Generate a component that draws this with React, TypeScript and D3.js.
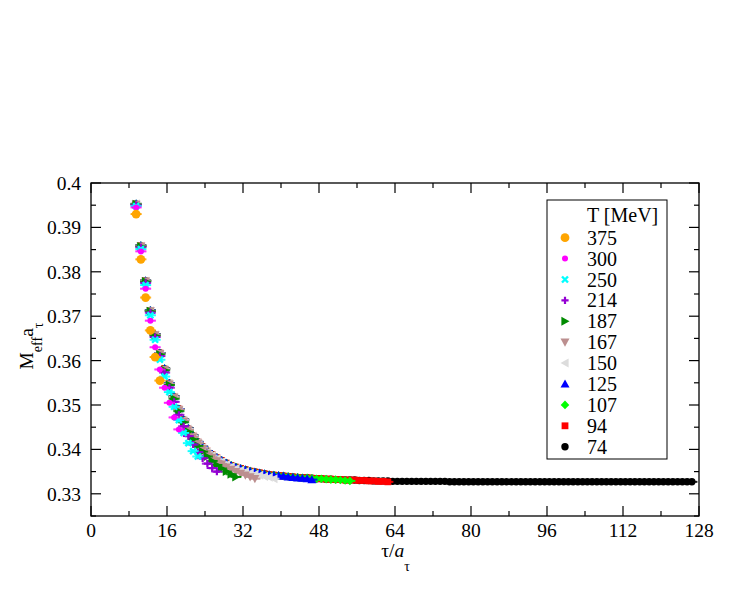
import React from 'react';
import * as d3 from 'd3';

// ---------- data ----------
const temperatures = ['375', '300', '250', '214', '187', '167', '150', '125', '107', '94', '74'];
const seriesColors = ['#ffa500', '#ff00ff', '#00ffff', '#9400d3', '#008b00', '#bc8f8f', '#dcdcdc', '#0000ff', '#00ff00', '#ff0000', '#000000'];
const seriesShapes = ['circleL', 'circleS', 'x', 'plus', 'triR', 'triD', 'triL', 'triU', 'diamond', 'square', 'circleM'];

const firstTau = 9.5;

const m375 = [0.3930, 0.3828, 0.3742, 0.3668, 0.3608, 0.3555];
const m300 = [0.3945, 0.3846, 0.3762, 0.3690, 0.3630, 0.3580, 0.3539, 0.3505, 0.3472, 0.3445];
const m250 = [0.3948, 0.3851, 0.3770, 0.3702, 0.3647, 0.3602, 0.3564, 0.3529, 0.3496, 0.3466, 0.3437, 0.3414, 0.3396, 0.3384];
const m214 = [0.3950, 0.3855, 0.3775, 0.3708, 0.3653, 0.3610, 0.3573, 0.3539, 0.3507, 0.3478, 0.3452, 0.3430, 0.3411, 0.3394, 0.3380, 0.3368, 0.3358, 0.3350];
const m187 = [0.3952, 0.3857, 0.3778, 0.3711, 0.3656, 0.3614, 0.3578, 0.3545, 0.3514, 0.3486, 0.3461, 0.3440, 0.3423, 0.3408, 0.3395, 0.3384, 0.3374, 0.3365, 0.3357, 0.3350, 0.3344, 0.3338];
const m167 = [0.3952, 0.3858, 0.3779, 0.3712, 0.3658, 0.3616, 0.3580, 0.3547, 0.3517, 0.3489, 0.3464, 0.3444, 0.3428, 0.3414, 0.3402, 0.3391, 0.3382, 0.3374, 0.3367, 0.3360, 0.3355, 0.3350, 0.3346, 0.3342, 0.3338, 0.3334];
const m150 = [0.3953, 0.3858, 0.3779, 0.3712, 0.3658, 0.3616, 0.3581, 0.3548, 0.3518, 0.3490, 0.3466, 0.3446, 0.3430, 0.3416, 0.3404, 0.3394, 0.3386, 0.3379, 0.3372, 0.3366, 0.3361, 0.3357, 0.3353, 0.3350, 0.3347, 0.3344, 0.3342, 0.3339, 0.3337, 0.3334];
const m125 = [0.3953, 0.3859, 0.3780, 0.3713, 0.3659, 0.3617, 0.3582, 0.3549, 0.3519, 0.3491, 0.3467, 0.3447, 0.3431, 0.3417, 0.3406, 0.3396, 0.3388, 0.3381, 0.3375, 0.3369, 0.3364, 0.3360, 0.3357, 0.3354, 0.3351, 0.3349, 0.3347, 0.3345, 0.3343, 0.3342, 0.3341, 0.3340,
  0.3338, 0.3337, 0.3336, 0.3335, 0.3334, 0.3332];
const m107 = [0.3953, 0.3859, 0.3780, 0.3713, 0.3659, 0.3617, 0.3582, 0.3549, 0.3519, 0.3491, 0.3467, 0.3447, 0.3431, 0.3417, 0.3406, 0.3396, 0.3388, 0.3381, 0.3375, 0.3369, 0.3364, 0.3360, 0.3357, 0.3354, 0.3351, 0.3349, 0.3347, 0.3345, 0.3343, 0.3342, 0.3341, 0.3340,
  0.3339, 0.3338, 0.3337, 0.3336, 0.3336, 0.3335, 0.3334,
  0.3334, 0.3333, 0.3332, 0.3332, 0.3331, 0.3330, 0.3329];
const m94 = [0.3953, 0.3859, 0.3780, 0.3713, 0.3659, 0.3617, 0.3582, 0.3549, 0.3519, 0.3491, 0.3467, 0.3447, 0.3431, 0.3417, 0.3406, 0.3396, 0.3388, 0.3381, 0.3375, 0.3369, 0.3364, 0.3360, 0.3357, 0.3354, 0.3351, 0.3349, 0.3347, 0.3345, 0.3343, 0.3342, 0.3341, 0.3340,
  0.3339, 0.3338, 0.3337, 0.3336, 0.3336, 0.3335, 0.3334,
  0.3334, 0.3333, 0.3333, 0.3332, 0.3332, 0.3331, 0.3331, 0.3331, 0.3330, 0.3330,
  0.3329, 0.3329, 0.3328, 0.3328, 0.3327];
const m74 = [0.3953, 0.3859, 0.3780, 0.3713, 0.3659, 0.3617, 0.3582, 0.3549, 0.3519, 0.3491, 0.3467, 0.3447, 0.3431, 0.3417, 0.3406, 0.3396, 0.3388, 0.3381, 0.3375, 0.3369, 0.3364, 0.3360, 0.3357, 0.3354, 0.3351, 0.3349, 0.3347, 0.3345, 0.3343, 0.3342, 0.3341, 0.3340,
  0.3339, 0.3338, 0.3337, 0.3336, 0.3336, 0.3335, 0.3334,
  0.3334, 0.3333, 0.3333, 0.3332, 0.3332, 0.3331, 0.3331, 0.3331, 0.3330, 0.3330,
  0.3330, 0.3329, 0.3329, 0.3329, 0.3329, 0.3328,
  0.3328, 0.3328, 0.3328, 0.3328, 0.3328, 0.3328, 0.3328, 0.3328, 0.3328, 0.3328, 0.3328,
  0.3327, 0.3327, 0.3327, 0.3327, 0.3327, 0.3327, 0.3327, 0.3327, 0.3327, 0.3327,
  0.3327, 0.3327, 0.3327, 0.3327, 0.3327, 0.3327, 0.3327, 0.3327, 0.3327, 0.3327,
  0.3327, 0.3327, 0.3327, 0.3327, 0.3327, 0.3327, 0.3327, 0.3327, 0.3327, 0.3327,
  0.3327, 0.3327, 0.3327, 0.3327, 0.3327, 0.3327, 0.3327, 0.3327, 0.3327, 0.3327,
  0.3327, 0.3327, 0.3327, 0.3327, 0.3327, 0.3327, 0.3327, 0.3327, 0.3327, 0.3327,
  0.3327, 0.3327];

const seriesValues = [m375, m300, m250, m214, m187, m167, m150, m125, m107, m94, m74];

const xTicksMajor = [0, 16, 32, 48, 64, 80, 96, 112, 128];
const xTicksMinor = [8, 24, 40, 56, 72, 88, 104, 120];
const yTicksMajor = [0.33, 0.34, 0.35, 0.36, 0.37, 0.38, 0.39, 0.4];
const yTicksMinor = [0.325, 0.335, 0.345, 0.355, 0.365, 0.375, 0.385, 0.395];

// ---------- layout ----------
const W = 747;
const H = 608;
const L = 91, R = 699, T = 183, B = 516;
const FONT = 'Liberation Serif';
const ERR = 0.0001;

const x = d3.scaleLinear().domain([0, 128]).range([L, R]);
const y = d3.scaleLinear().domain([0.325, 0.4]).range([B, T]);

function Marker({ shape, color, cx, cy }: { shape: string; color: string; cx: number; cy: number }) {
  const t = `translate(${cx},${cy})`;
  switch (shape) {
    case 'circleL':
      return <circle cx={cx} cy={cy} r={4.4} fill={color} />;
    case 'circleS':
      return <circle cx={cx} cy={cy} r={3.0} fill={color} />;
    case 'circleM':
      return <circle cx={cx} cy={cy} r={3.7} fill={color} />;
    case 'x': {
      const s = 3.0;
      return (
        <path transform={t} d={`M${-s},${-s}L${s},${s}M${-s},${s}L${s},${-s}`} stroke={color} strokeWidth={2.4} fill="none" />
      );
    }
    case 'plus': {
      const s = 3.6;
      return <path transform={t} d={`M${-s},0L${s},0M0,${-s}L0,${s}`} stroke={color} strokeWidth={2.2} fill="none" />;
    }
    case 'triU': {
      const s = 4.5;
      return <path transform={t} d={`M0,${-s}L${s},${s * 0.8}L${-s},${s * 0.8}Z`} fill={color} />;
    }
    case 'triD': {
      const s = 4.5;
      return <path transform={t} d={`M0,${s}L${s},${-s * 0.8}L${-s},${-s * 0.8}Z`} fill={color} />;
    }
    case 'triR': {
      const s = 4.5;
      return <path transform={t} d={`M${s},0L${-s * 0.8},${-s}L${-s * 0.8},${s}Z`} fill={color} />;
    }
    case 'triL': {
      const s = 4.5;
      return <path transform={t} d={`M${-s},0L${s * 0.8},${-s}L${s * 0.8},${s}Z`} fill={color} />;
    }
    case 'diamond': {
      const s = 4.3;
      return <path transform={t} d={`M0,${-s}L${s},0L0,${s}L${-s},0Z`} fill={color} />;
    }
    case 'square': {
      const s = 3.4;
      return <rect x={cx - s} y={cy - s} width={2 * s} height={2 * s} fill={color} />;
    }
    default:
      return null;
  }
}

export default function App() {
  const drawOrder = d3.range(seriesValues.length).reverse();
  const legendTop = 237.7;
  const legendStep = 20.9;
  return (
    <div style={{ position: 'absolute', left: 0, top: 0, width: W, height: H, background: '#fff', fontFamily: FONT }}>
      <svg width={W} height={H} fontFamily={FONT}>
        <rect x={0} y={0} width={W} height={H} fill="#fff" />

        {/* data */}
        {drawOrder.map((si) => {
          const vals = seriesValues[si];
          const color = seriesColors[si];
          return (
            <g key={temperatures[si]}>
              {vals.map((v, i) => {
                const cx = x(firstTau + i);
                const y1 = y(v + ERR);
                const y2 = y(v - ERR);
                return (
                  <g key={i}>
                    <path d={`M${cx},${y1}L${cx},${y2}M${cx - 5.5},${y1}L${cx + 5.5},${y1}M${cx - 5.5},${y2}L${cx + 5.5},${y2}`} stroke={color} strokeWidth={1} fill="none" />
                    <Marker shape={seriesShapes[si]} color={color} cx={cx} cy={y(v)} />
                  </g>
                );
              })}
            </g>
          );
        })}

        {/* frame */}
        <rect x={L} y={T} width={R - L} height={B - T} fill="none" stroke="#000" strokeWidth={1.3} />

        {/* x ticks */}
        {xTicksMajor.map((t) => (
          <g key={`xM${t}`}>
            <line x1={x(t)} x2={x(t)} y1={B} y2={B - 10} stroke="#000" strokeWidth={1.2} />
            <line x1={x(t)} x2={x(t)} y1={T} y2={T + 10} stroke="#000" strokeWidth={1.2} />
            <text fontFamily={FONT} x={x(t)} y={537} textAnchor="middle" fontSize={19.5}>{t}</text>
          </g>
        ))}
        {xTicksMinor.map((t) => (
          <g key={`xm${t}`}>
            <line x1={x(t)} x2={x(t)} y1={B} y2={B - 5} stroke="#000" strokeWidth={1.2} />
            <line x1={x(t)} x2={x(t)} y1={T} y2={T + 5} stroke="#000" strokeWidth={1.2} />
          </g>
        ))}

        {/* y ticks */}
        {yTicksMajor.map((t) => (
          <g key={`yM${t}`}>
            <line x1={L} x2={L + 10} y1={y(t)} y2={y(t)} stroke="#000" strokeWidth={1.2} />
            <line x1={R} x2={R - 10} y1={y(t)} y2={y(t)} stroke="#000" strokeWidth={1.2} />
            <text fontFamily={FONT} x={81} y={y(t) + 7} textAnchor="end" fontSize={19.5}>{d3.format('~g')(t)}</text>
          </g>
        ))}
        {yTicksMinor.map((t) => (
          <g key={`ym${t}`}>
            <line x1={L} x2={L + 5} y1={y(t)} y2={y(t)} stroke="#000" strokeWidth={1.2} />
            <line x1={R} x2={R - 5} y1={y(t)} y2={y(t)} stroke="#000" strokeWidth={1.2} />
          </g>
        ))}

        {/* axis labels */}
        <text fontFamily={FONT} x={395.5} y={557} textAnchor="middle" fontSize={19.5}>
          τ/<tspan fontStyle="italic">a</tspan>
          <tspan dy={14} fontSize={14}>τ</tspan>
        </text>
        <text fontFamily={FONT} transform="translate(33,346) rotate(-90)" textAnchor="middle" fontSize={19.5}>
          M<tspan dy={9} fontSize={14}>eff</tspan>
          <tspan dy={-9} fontSize={19.5}>a</tspan>
          <tspan dy={10} fontSize={14}>τ</tspan>
        </text>

        {/* legend */}
        <rect x={547} y={200} width={120} height={259} fill="#fff" stroke="#000" strokeWidth={1} />
        <text fontFamily={FONT} x={587} y={222} fontSize={20}>T [MeV]</text>
        {temperatures.map((tLabel, i) => {
          const cy = legendTop + i * legendStep;
          return (
            <g key={`lg${tLabel}`}>
              <Marker shape={seriesShapes[i]} color={seriesColors[i]} cx={565} cy={cy} />
              <text fontFamily={FONT} x={587} y={cy + 7} fontSize={20}>{tLabel}</text>
            </g>
          );
        })}
      </svg>
    </div>
  );
}
